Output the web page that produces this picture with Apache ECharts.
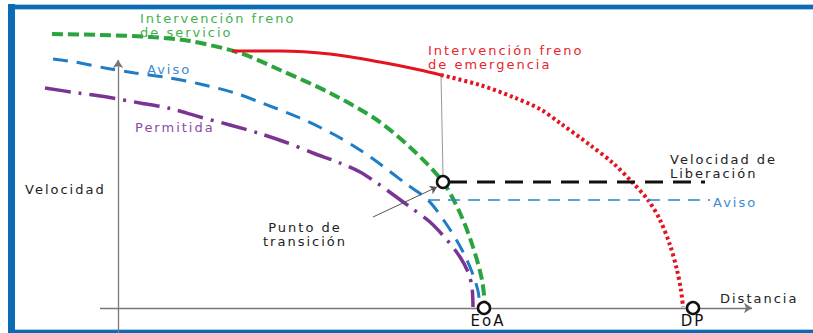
<!DOCTYPE html>
<html>
<head>
<meta charset="utf-8">
<script src="https://cdn.jsdelivr.net/npm/echarts@6/dist/echarts.min.js"></script>
<style>
  body { margin: 0; background: #fff; }
  #chart { width: 813px; height: 333px; }
  /* el texto del original va con letras espaciadas */
  #chart text { letter-spacing: 2px; }
</style>
</head>
<body>
<div id="chart"></div>
<script>
// distancia (d) y velocidad (v), origen en el cruce de los ejes
var greenD = [-66, -18, 32, 72, 122, 162, 212, 259, 295, 325, 342, 355, 364, 367]
var greenV = [274, 273, 271, 267, 255, 238, 215, 188, 158, 126, 95, 61, 28, 3]

var blueD = [-65, -43, -13, 17, 52, 82, 117, 144, 182, 217, 242, 262, 287, 310, 329, 344, 354, 360, 362]
var blueV = [249, 246, 240, 235, 230, 224, 215, 205, 190, 173, 158, 144, 125, 108, 83, 58, 36, 17, 2]

var purpleD = [-73, -40, -11, 22, 50, 82, 112, 140, 167, 195, 222, 242, 259, 277, 292, 312, 329, 342, 350, 354, 355]
var purpleV = [220, 215, 211, 205, 200, 191, 183, 175, 166, 155, 145, 136, 125, 112, 101, 86, 68, 51, 36, 21, 1]

// freno de emergencia: tramo continuo y tramo punteado
var redSolidD = [114, 162, 212, 262, 302, 323]
var redSolidV = [257, 257, 254, 246, 238, 233]
var redDotD = [323, 362, 395, 422, 442, 472, 495, 514, 530, 542, 552, 559, 563, 565]
var redDotV = [233, 223, 211, 199, 185, 163, 145, 126, 108, 88, 63, 38, 18, 1]

// puntos marcados
var eoaD = 366
var dpD = 575
var transD = 325
var transV = 126

// velocidad de liberacion y aviso
var releaseFrom = 331
var releaseTo = 587
var avisoFrom = 310
var avisoTo = 592
var avisoV = 108

// ejes dibujados a mano
var axisXFrom = -18
var axisXTo = 634
var axisYFrom = -25
var axisYTo = 248

// flecha del punto de transicion
var pointerFrom = [255, 91]
var pointerTo = [319, 121]

function pairs (xs, ys) {
  return xs.map(function (x, i) { return [x, ys[i]] })
}

var chart = echarts.init(document.getElementById('chart'), null, { renderer: 'svg' })

var font13 = '13px "DejaVu Sans"'

function txt (text, x, y, color, align, font) {
  return {
    type: 'text',
    x: x,
    y: y,
    z: 100,
    style: {
      text: text,
      fill: color,
      font: font || font13,
      textAlign: align || 'left',
      textVerticalAlign: 'middle',
      align: align || 'left',
      verticalAlign: 'middle'
    }
  }
}

chart.setOption({
  animation: false,
  grid: { left: 0, right: 0, top: 0, bottom: 0 },
  xAxis: { type: 'value', min: -118, max: 695, show: false },
  yAxis: { type: 'value', min: -25, max: 308, show: false },
  graphic: [
    // marco azul
    { type: 'rect', shape: { x: 8, y: 4, width: 805, height: 1 }, style: { fill: '#a9cbe8' } },
    { type: 'rect', shape: { x: 8, y: 5, width: 805, height: 4 }, style: { fill: '#0b6cb5' } },
    { type: 'rect', shape: { x: 15, y: 9, width: 798, height: 1 }, style: { fill: '#a9cbe8' } },
    { type: 'rect', shape: { x: 8, y: 4, width: 7, height: 329 }, style: { fill: '#0b6cb5' } },
    { type: 'rect', shape: { x: 15, y: 329, width: 798, height: 1 }, style: { fill: '#a9cbe8' } },
    { type: 'rect', shape: { x: 15, y: 330, width: 798, height: 3 }, style: { fill: '#0b6cb5' } },
    // textos
    txt('Intervención freno', 140, 18, '#45b04d'),
    txt('de servicio', 140, 32, '#45b04d'),
    txt('Intervención freno', 428, 50, '#e8252c'),
    txt('de emergencia', 428, 64, '#e8252c'),
    txt('Aviso', 147, 69, '#3a8bd0'),
    txt('Permitida', 135, 127, '#8a4aa5'),
    txt('Velocidad', 25, 189, '#222'),
    txt('Punto de', 305, 227, '#222', 'center'),
    txt('transición', 305, 241, '#222', 'center'),
    txt('Velocidad de', 670, 159, '#222'),
    txt('Liberación', 670, 173, '#222'),
    txt('Aviso', 713, 202, '#3a8bd0'),
    txt('Distancia', 720, 298, '#222'),
    txt('EoA', 488, 321, '#111', 'center', '15px "DejaVu Sans"'),
    txt('DP', 693, 321, '#111', 'center', '15px "DejaVu Sans"')
  ],
  series: [
    {
      type: 'lines',
      coordinateSystem: 'cartesian2d',
      symbol: ['none', 'arrow'],
      symbolSize: 8,
      lineStyle: { color: '#777', width: 1.3, opacity: 1 },
      data: [
        { coords: [[0, axisYFrom], [0, axisYTo]] },
        { coords: [[axisXFrom, 0], [axisXTo, 0]] }
      ],
      z: 1
    },
    {
      type: 'lines',
      coordinateSystem: 'cartesian2d',
      symbol: ['none', 'none'],
      lineStyle: { color: '#999', width: 1, opacity: 1 },
      data: [{ coords: [[redSolidD[redSolidD.length - 1], redSolidV[redSolidV.length - 1]], [transD, transV + 6]] }],
      z: 1
    },
    {
      type: 'lines',
      coordinateSystem: 'cartesian2d',
      symbol: ['none', 'arrow'],
      symbolSize: 7,
      lineStyle: { color: '#555', width: 1, opacity: 1 },
      data: [{ coords: [pointerFrom, pointerTo] }],
      z: 6
    },
    {
      name: 'Permitida',
      type: 'line',
      smooth: 0.3,
      showSymbol: false,
      data: pairs(purpleD, purpleV),
      lineStyle: { color: '#7a3593', width: 3.5, type: [26, 8, 3, 8], cap: 'butt' },
      z: 2
    },
    {
      name: 'Aviso',
      type: 'line',
      smooth: 0.3,
      showSymbol: false,
      data: pairs(blueD, blueV),
      lineStyle: { color: '#1f7dc6', width: 3, type: [15, 9], cap: 'butt' },
      z: 2
    },
    {
      name: 'Intervención freno de servicio',
      type: 'line',
      smooth: 0.3,
      showSymbol: false,
      data: pairs(greenD, greenV),
      lineStyle: { color: '#2aa43c', width: 4, type: [11, 5], cap: 'butt' },
      z: 3
    },
    {
      name: 'Intervención freno de emergencia',
      type: 'line',
      smooth: 0.3,
      showSymbol: false,
      data: pairs(redSolidD, redSolidV),
      lineStyle: { color: '#e3141f', width: 3 },
      z: 3
    },
    {
      type: 'line',
      smooth: 0.3,
      showSymbol: false,
      data: pairs(redDotD, redDotV),
      lineStyle: { color: '#e3141f', width: 4, type: [3, 3], cap: 'butt' },
      z: 3
    },
    {
      name: 'Velocidad de Liberación',
      type: 'line',
      showSymbol: false,
      data: [[releaseFrom, transV], [releaseTo, transV]],
      lineStyle: { color: '#111', width: 3, type: [18, 10], cap: 'butt' },
      z: 4
    },
    {
      name: 'Aviso liberación',
      type: 'line',
      showSymbol: false,
      data: [[avisoFrom, avisoV], [avisoTo, avisoV]],
      lineStyle: { color: '#2a85cc', width: 1.5, type: [12, 8], cap: 'butt' },
      z: 4
    },
    {
      type: 'scatter',
      symbol: 'circle',
      symbolSize: 12,
      itemStyle: { color: '#fff', borderColor: '#111', borderWidth: 2.5, opacity: 1 },
      data: [[eoaD, 0], [dpD, 0], [transD, transV]],
      z: 7
    }
  ]
})
</script>
</body>
</html>
